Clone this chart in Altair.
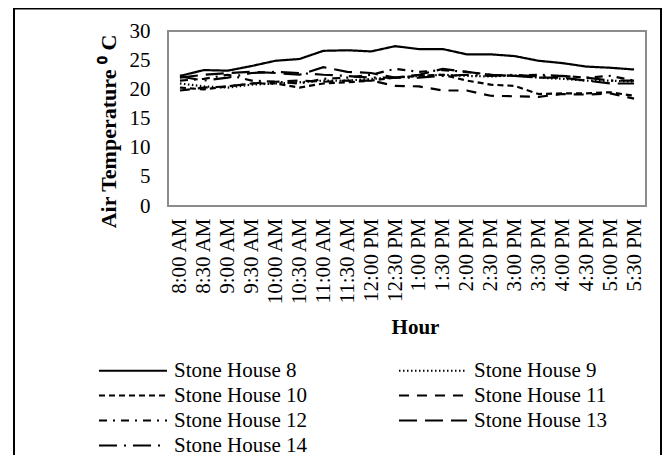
import altair as alt
import pandas as pd

hours = ["8:00 AM", "8:30 AM", "9:00 AM", "9:30 AM", "10:00 AM", "10:30 AM",
         "11:00 AM", "11:30 AM", "12:00 PM", "12:30 PM", "1:00 PM", "1:30 PM",
         "2:00 PM", "2:30 PM", "3:00 PM", "3:30 PM", "4:00 PM", "4:30 PM",
         "5:00 PM", "5:30 PM"]

series = ["Stone House 8", "Stone House 9", "Stone House 10", "Stone House 11",
          "Stone House 12", "Stone House 13", "Stone House 14"]

sh8 = [22.3, 23.3, 23.2, 24.0, 24.9, 25.2, 26.6, 26.7, 26.5, 27.4,
       26.9, 26.9, 26.0, 26.0, 25.7, 24.9, 24.5, 23.9, 23.7, 23.4]
sh9 = [21.0, 20.5, 20.3, 20.8, 21.0, 21.2, 21.5, 21.5, 21.8, 22.0,
       22.3, 22.5, 22.3, 22.2, 22.4, 22.0, 21.8, 21.5, 21.5, 21.3]
sh10 = [20.3, 20.0, 20.5, 21.0, 21.0, 20.3, 21.0, 21.2, 21.5, 22.0,
        22.3, 22.5, 21.5, 20.8, 20.6, 19.2, 19.3, 19.3, 19.5, 18.9]
sh11 = [19.8, 20.3, 20.5, 21.0, 21.3, 21.5, 21.3, 21.5, 21.5, 20.6,
        20.5, 19.8, 19.8, 18.9, 18.8, 18.7, 19.2, 19.1, 19.3, 18.4]
sh12 = [21.5, 21.8, 22.5, 21.5, 21.3, 21.0, 21.8, 22.0, 22.5, 23.5,
        23.0, 23.3, 23.0, 22.5, 22.3, 22.5, 22.3, 22.0, 22.3, 21.5]
sh13 = [22.0, 22.5, 22.8, 23.0, 22.8, 22.5, 23.8, 23.0, 22.8, 22.0,
        22.5, 23.5, 23.0, 22.5, 22.3, 22.0, 22.0, 21.5, 21.0, 21.0]
sh14 = [22.2, 21.5, 22.0, 22.8, 23.0, 22.8, 22.5, 22.3, 22.0, 22.0,
        22.0, 22.3, 22.5, 22.3, 22.5, 22.2, 22.3, 22.0, 21.5, 21.5]

values = [sh8, sh9, sh10, sh11, sh12, sh13, sh14]
dashes = [[1, 0], [1.5, 2.5], [6, 4], [10, 8], [8, 6, 2, 6], [18, 8], [18, 7, 2, 7]]

rows = []
for name, vals in zip(series, values):
    for h, v in zip(hours, vals):
        rows.append({"Hour": h, "Temp": v, "Series": name})
df = pd.DataFrame(rows)

FONT = "Liberation Serif"

lines = alt.Chart(df).mark_line(color="black", strokeWidth=2.2).encode(
    x=alt.X("Hour:N", sort=hours,
            scale=alt.Scale(type="point", padding=0.5),
            axis=alt.Axis(title="Hour", labelAngle=270, labelAlign="right",
                          labelBaseline="middle", labelPadding=12, ticks=False,
                          tickSize=0, domain=False, grid=False,
                          labelFont=FONT, labelFontSize=21, labelColor="black",
                          titleFont=FONT, titleFontSize=21, titleFontWeight="bold",
                          titleColor="black", titleY=121, titleX=247,
                          titleBaseline="middle", labelOverlap=False)),
    y=alt.Y("Temp:Q", scale=alt.Scale(domain=[0, 30], nice=False),
            axis=alt.Axis(title="Air Temperature ⁰ C", values=[0, 5, 10, 15, 20, 25, 30],
                          ticks=False, tickSize=0, domain=False, grid=False,
                          labelPadding=18, labelFont=FONT, labelFontSize=21,
                          labelColor="black", titleFont=FONT, titleFontSize=22,
                          titleFontWeight="bold", titleColor="black",
                          titleAngle=270, titleX=-60, titleY=100,
                          titleAlign="center", titleBaseline="middle")),
    strokeDash=alt.StrokeDash("Series:N",
                              scale=alt.Scale(domain=series, range=dashes),
                              legend=alt.Legend(title=None, orient="none",
                                                direction="horizontal",
                                                legendX=-71, legendY=329,
                                                columns=2, columnPadding=87,
                                                rowPadding=3,
                                                symbolType="M -1 0 L 7 0",
                                                symbolSize=289,
                                                symbolStrokeWidth=2.2,
                                                symbolStrokeColor="black",
                                                labelFont=FONT, labelFontSize=21,
                                                labelColor="black", labelOffset=56,
                                                labelLimit=300, padding=0)),
    detail="Series:N",
)

frame = alt.Chart(pd.DataFrame({"a": [0]})).mark_rect(
    filled=False, stroke="black", strokeWidth=2
).encode(
    x=alt.value(-154), x2=alt.value(493), y=alt.value(-22.5), y2=alt.value(460)
)

chart = alt.layer(frame, lines).properties(
    width=478, height=175,
    autosize=alt.AutoSizeParams(type="none"),
    padding={"left": 160, "top": 23, "right": 18, "bottom": 249},
    background="white",
).configure_view(stroke="#8c8c8c", strokeWidth=2)

chart.save("out.html", embed_options={"renderer": "svg", "actions": False})
